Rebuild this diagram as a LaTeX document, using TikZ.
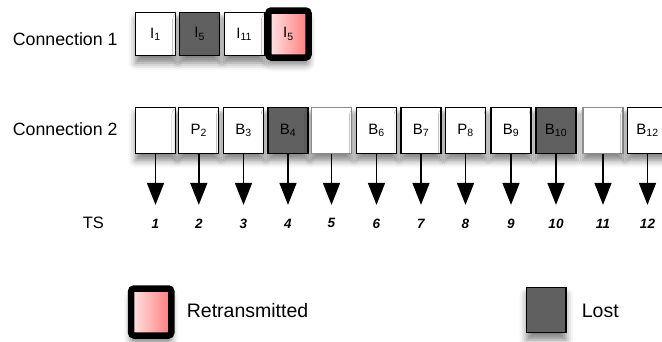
\documentclass[tikz,border=0pt]{standalone}
\usepackage{fontspec}
\setmainfont{Liberation Sans}
\usetikzlibrary{arrows.meta,shadows.blur}
\definecolor{lostgray}{HTML}{606060}
\tikzset{
  softshadow/.style={blur shadow={shadow xshift=0pt,shadow yshift=-7pt,shadow blur radius=7pt,shadow opacity=50}},
  pkt/.style={draw=black,line width=1.3pt,fill=white,minimum width=40pt,minimum height=45.5pt,
    inner sep=0pt,font=\fontsize{15}{17}\selectfont,softshadow},
  lostpkt/.style={pkt,fill=lostgray},
  emptypkt/.style={pkt,draw=black!45},
  retx/.style={pkt,line width=6.5pt,rounded corners=3pt,left color=red!10,right color=red!52,
    minimum width=40.2pt,minimum height=47pt},
  tsarrow/.style={line width=1.6pt,-{Triangle[width=17pt,length=22pt]}},
  tsnum/.style={font=\fontsize{13.5}{16}\selectfont\bfseries\itshape,inner sep=0pt},
  lbl/.style={anchor=west,inner sep=0pt,font=\fontsize{17.75}{20}\selectfont},
  legendlbl/.style={anchor=west,inner sep=0pt,font=\fontsize{19.5}{22}\selectfont},
}
% packet label, set a little below the box centre
\newcommand{\pktname}[2]{\raisebox{-2pt}{#1\textsubscript{#2}}}
\begin{document}
\begin{tikzpicture}[x=1pt,y=-1pt]
  \useasboundingbox (0,0) rectangle (662,341);

  % row labels
  \node[lbl] (conn1) at (12.7,39.5) {Connection 1};
  \node[lbl] (conn2) at (12.7,129.5) {Connection 2};
  \node[anchor=west,inner sep=0pt,font=\fontsize{16.5}{18}\selectfont] (ts) at (82.7,223) {TS};

  % connection 1
  \node[pkt,minimum height=43.5pt] (c1-1) at (155.5,34) {\pktname{I}{1}};
  \node[lostpkt,minimum height=43.5pt] (c1-2) at (199.7,34) {\pktname{I}{5}};
  \node[pkt,minimum height=43.5pt] (c1-3) at (244.2,34) {\pktname{I}{11}};
  \node[retx] (c1-4) at (288.4,34) {\pktname{I}{5}};

  % connection 2, one packet per time slot
  \foreach \i/\x/\s/\t in {
      1/155.5/pkt/{},
      2/198.8/pkt/{\pktname{P}{2}},
      3/243.5/pkt/{\pktname{B}{3}},
      4/288/lostpkt/{\pktname{B}{4}},
      5/331.5/emptypkt/{},
      6/376.5/pkt/{\pktname{B}{6}},
      7/421/pkt/{\pktname{B}{7}},
      8/465.5/pkt/{\pktname{P}{8}},
      9/511/pkt/{\pktname{B}{9}},
      10/556/lostpkt/{\pktname{B}{10}},
      11/603/emptypkt/{},
      12/647.5/pkt/{\pktname{B}{12}}}{
    \node[\s] (c2-\i) at (\x,130.5) {\t};
  }
  \foreach \i in {1,...,12}{
    \path (c2-\i.south) ++(0,51) coordinate (tip-\i);
    \draw[tsarrow] (c2-\i.south) -- (tip-\i);
    \path (c2-\i.south) ++(0,69.5) node[tsnum] (num-\i) {\i};
  }

  % legend
  \node[retx] (key-retx) at (151.2,312) {};
  \node[legendlbl] (key-retx-lbl) at (186.7,311) {Retransmitted};
  \node[lostpkt,minimum width=39.5pt,minimum height=45pt] (key-lost) at (546.3,310.3) {};
  \node[legendlbl] (key-lost-lbl) at (581.7,311) {Lost};
\end{tikzpicture}
\end{document}
